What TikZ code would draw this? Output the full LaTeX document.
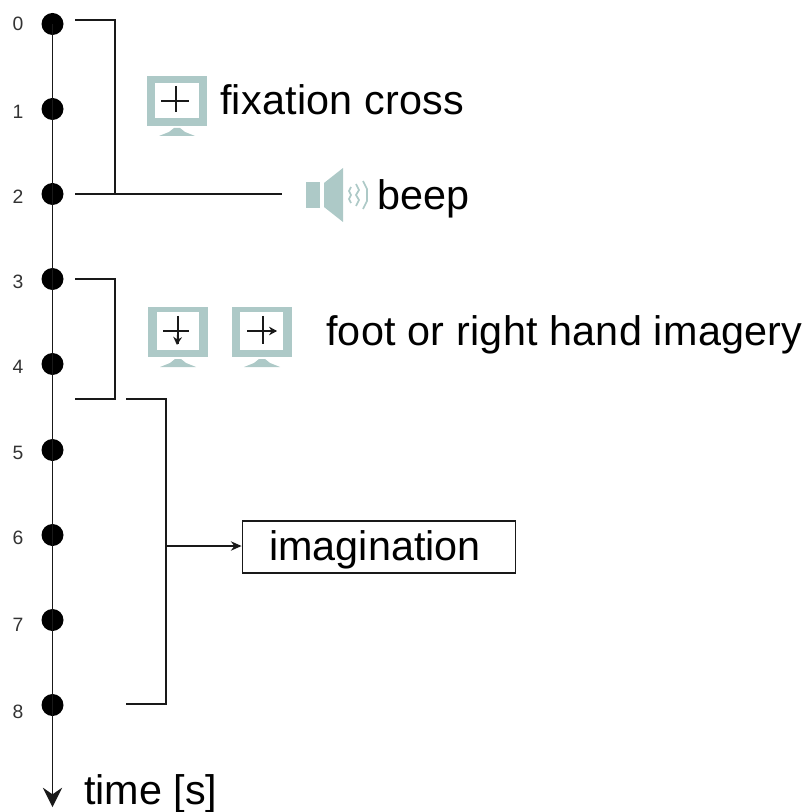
\documentclass[tikz,border=0pt]{standalone}
\usepackage{fontspec}
\setmainfont{Liberation Sans}
\usetikzlibrary{arrows.meta}
\definecolor{iconc}{HTML}{ADC9C7}
\tikzset{
  x=0.75pt,y=-0.75pt,
  tdot/.style={circle,fill=black,inner sep=0pt,minimum size=16.5pt},
  tick/.style={font=\fontsize{14.5}{15}\selectfont,text=black!80,inner sep=0pt},
  lbl/.style={font=\fontsize{31}{32}\selectfont,inner sep=0pt,anchor=base west},
  ln/.style={draw=black!90,line width=1.15pt},
  crossln/.style={draw=black!90,line width=1.1pt},
  monbase/.pic={
    \fill[iconc] (-18,30) -- (-8,26) -- (-3,22) -- (3,22) -- (8,26) -- (18,30) -- cycle;
    \fill[iconc] (-30,-30) rectangle (30,20);
  },
  spk/.pic={
    \fill[iconc] (-24,-13) rectangle (-10,13);
    \fill[iconc] (-6,-12) -- (13,-27) -- (13,27) -- (-6,12) -- cycle;
    \draw[iconc,line width=1.3pt] (21,-8) -- (19,-4) -- (21,0) -- (19,4) -- (21,8);
    \draw[iconc,line width=1.3pt] (26,-11) -- (29,-5) -- (26,0) -- (29,5) -- (26,11);
    \draw[iconc,line width=1.3pt] (33,-14) -- (37,-6) -- (37,6) -- (33,14);
  }
}
\begin{document}
\begin{tikzpicture}
\useasboundingbox (0,0) rectangle (807,812);
% time axis
\node[tdot] (d0) at (52.5,24) {};
\node[tdot] (d1) at (52.5,109) {};
\node[tdot] (d2) at (52.5,194) {};
\node[tdot] (d3) at (52.5,279) {};
\node[tdot] (d4) at (52.5,364) {};
\node[tdot] (d5) at (52.5,450) {};
\node[tdot] (d6) at (52.5,535) {};
\node[tdot] (d7) at (52.5,620) {};
\node[tdot] (d8) at (52.5,705) {};
\coordinate (axend) at (52.5,807);
\draw[ln,-{Stealth[length=14.5pt,width=14.5pt,inset=5pt]}] (d0.center) -- (d8.center) -- (axend);
% tick labels
\foreach \n/\y in {0/24,1/112,2/197,3/282,4/367,5/453,6/538,7/625,8/712}
  \node[tick] at (18,\y) {\n};
% brackets
\coordinate (b1a) at (75,20);
\coordinate (b1b) at (115,20);
\coordinate (b1c) at (115,194);
\coordinate (b1d) at (75,194);
\coordinate (b1e) at (282,194);
\draw[ln] (b1a) -- (b1b) -- (b1c);
\draw[ln] (b1d) -- (b1e);
\coordinate (b2a) at (75,279);
\coordinate (b2b) at (115,279);
\coordinate (b2c) at (115,399);
\coordinate (b2d) at (75,399);
\draw[ln] (b2a) -- (b2b) -- (b2c) -- (b2d);
\coordinate (b3a) at (126,399);
\coordinate (b3b) at (166,399);
\coordinate (b3c) at (166,704);
\coordinate (b3d) at (126,704);
\draw[ln] (b3a) -- (b3b) -- (b3c) -- (b3d);
% imagination box
\node[draw=black!90,line width=1.15pt,minimum width=205pt,minimum height=39pt,inner sep=0pt,
      font=\fontsize{31}{32}\selectfont] (img) at (379,547) {\hspace*{-6pt}\raisebox{-10pt}[0pt][0pt]{imagination}};
\coordinate (b3m) at (166,546);
\draw[ln,-{Stealth[length=8pt,width=7pt]}] (b3m) -- (img.west |- b3m);
% icons
\pic at (177,106) {monbase};
\fill[white] (155,83) rectangle (199,118);
\draw[crossln] (161,101) -- (189,101) (176,86) -- (176,112);
\pic at (330,195) {spk};
\pic at (178,337) {monbase};
\fill[white] (157,312) rectangle (199,350);
\draw[crossln] (163,331) -- (189,331) (178,316) -- (178,344);
\draw[crossln,-{Stealth[length=6pt,width=6.5pt]}] (178,331) -- (177,345);
\pic at (262,337) {monbase};
\fill[white] (240,312) rectangle (283,350);
\draw[crossln] (247,331) -- (276,331) (263,316) -- (263,344);
\draw[crossln,-{Stealth[length=6pt,width=6.5pt]}] (263,331) -- (277,331);
% labels
\node[lbl] (fix) at (220,114.5) {\addfontfeature{LetterSpace=0.5}fixation cross};
\node[lbl] (beep) at (377,210) {beep};
\node[lbl] (foot) at (326,345) {\addfontfeature{LetterSpace=0.6}foot or right hand imagery};
\node[lbl] (time) at (84,804) {time [s]};
\end{tikzpicture}
\end{document}
